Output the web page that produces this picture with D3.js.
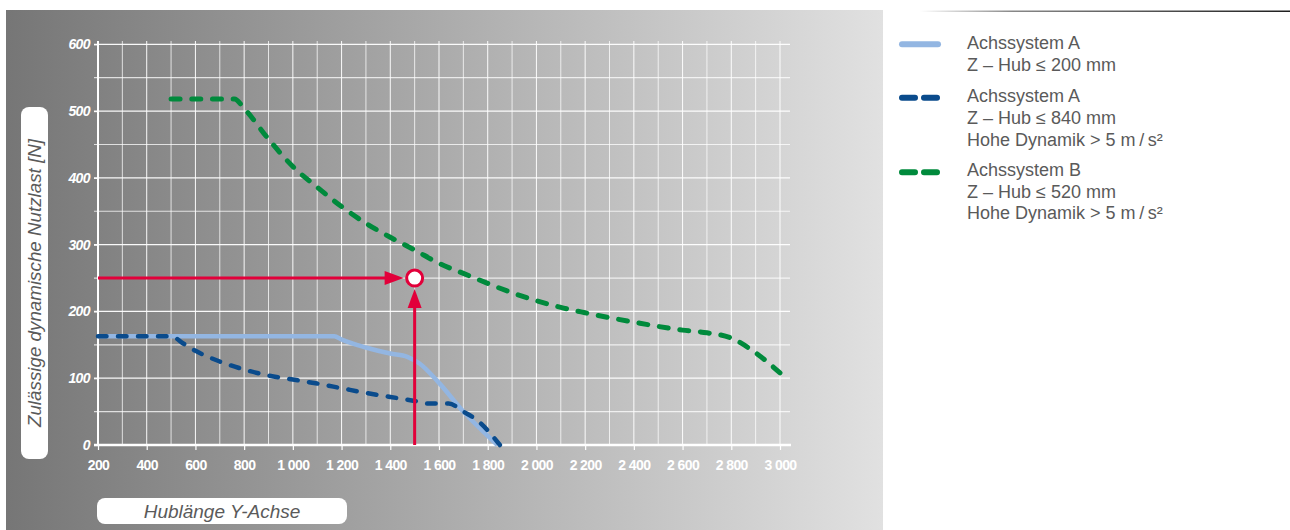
<!DOCTYPE html>
<html>
<head>
<meta charset="utf-8">
<script src="https://cdn.jsdelivr.net/npm/d3@7"></script>
<style>
  body { margin: 0; background: #fff; }
  svg { display: block; font-family: "Liberation Sans", Arial, sans-serif; }
</style>
</head>
<body>
<script>
var width = 1290
var height = 530

// chart values
var xTickValues = [200, 400, 600, 800, 1000, 1200, 1400, 1600, 1800, 2000, 2200, 2400, 2600, 2800, 3000]
var yTickValues = [0, 100, 200, 300, 400, 500, 600]
var xGrid = d3.range(200, 3001, 100)
var yGrid = d3.range(0, 601, 50)

var lightBlue = [[200,163],[1170,163],[1200,158],[1300,146],[1400,137],[1470,132],[1520,122],[1600,93],[1700,50],[1840,0]]
var darkBlue = [[200,163],[500,163],[550,152],[600,141],[700,125],[800,113],[900,104],[1000,98],[1100,92],[1200,85],[1300,78],[1400,72],[1500,66],[1560,62],[1640,62],[1700,50],[1760,36],[1850,0]]
var greenB = [[500,518],[760,518],[800,504],[900,458],[1000,417],[1100,386],[1200,357],[1300,332],[1400,311],[1500,292],[1600,272],[1700,257],[1800,242],[1900,228],[2000,216],[2100,206],[2200,198],[2400,184],[2600,172],[2700,168],[2800,160],[2900,138],[3000,108]]
var example = [1500, 250]

var seriesColors = ["#93b6e2", "#0a4b8c", "#008a3c"]
var legendLines = [
  ["Achssystem A", "Z \u2013 Hub \u2264 200 mm"],
  ["Achssystem A", "Z \u2013 Hub \u2264 840 mm", "Hohe Dynamik > 5 m\u2009/\u2009s\u00b2"],
  ["Achssystem B", "Z \u2013 Hub \u2264 520 mm", "Hohe Dynamik > 5 m\u2009/\u2009s\u00b2"]
]
var red = "#e2003a"

var x = d3.scaleLinear().domain([200, 3000]).range([98, 780])
var y = d3.scaleLinear().domain([0, 600]).range([445, 44.3])

var svg = d3.select("body").append("svg")
  .attr("width", width)
  .attr("height", height)

var defs = svg.append("defs")
var bg = defs.append("linearGradient").attr("id", "bg")
bg.append("stop").attr("offset", "0%").attr("stop-color", "#767676")
bg.append("stop").attr("offset", "100%").attr("stop-color", "#e1e1e1")

var rule = defs.append("linearGradient").attr("id", "rule")
rule.append("stop").attr("offset", "0%").attr("stop-color", "#ffffff")
rule.append("stop").attr("offset", "25%").attr("stop-color", "#888")
rule.append("stop").attr("offset", "100%").attr("stop-color", "#1e1e1e")

svg.append("rect")
  .attr("x", 6).attr("y", 10)
  .attr("width", 877).attr("height", 520)
  .attr("fill", "url(#bg)")

svg.append("rect")
  .attr("x", 920).attr("y", 10.5)
  .attr("width", 370).attr("height", 1.5)
  .attr("fill", "url(#rule)")

// grid
var grid = svg.append("g")
grid.selectAll(".vx").data(xGrid).enter().append("line")
  .attr("x1", function(d) { return x(d) })
  .attr("x2", function(d) { return x(d) })
  .attr("y1", 41)
  .attr("y2", y(0))
  .attr("stroke", "#fff")
  .attr("stroke-opacity", function(d) { return d % 200 == 0 ? 0.95 : 0.75 })
  .attr("stroke-width", 1)

grid.selectAll(".hy").data(yGrid).enter().append("line")
  .attr("x1", 94)
  .attr("x2", 790)
  .attr("y1", function(d) { return y(d) })
  .attr("y2", function(d) { return y(d) })
  .attr("stroke", "#fff")
  .attr("stroke-opacity", function(d) { return d % 100 == 0 ? 0.95 : 0.75 })
  .attr("stroke-width", 1.2)

// axes
var xAxis = svg.append("g")
  .attr("transform", "translate(0," + y(0) + ")")
  .call(d3.axisBottom(x)
    .tickValues(xTickValues)
    .tickSize(5)
    .tickSizeOuter(0)
    .tickPadding(10.5)
    .tickFormat(function(d) { return d >= 1000 ? Math.floor(d / 1000) + " " + d3.format("03")(d % 1000) : d }))
xAxis.select(".domain").remove()
xAxis.selectAll("line").attr("stroke", "#fff").attr("stroke-width", 1.2)
xAxis.selectAll("text")
  .attr("fill", "#fff")
  .style("font-size", "14px")
  .style("font-weight", "bold")
  .style("letter-spacing", "-0.6px")

var yAxis = svg.append("g")
  .attr("transform", "translate(" + x(200) + ",0)")
  .call(d3.axisLeft(y)
    .tickValues(yTickValues)
    .tickSize(4)
    .tickSizeOuter(0)
    .tickPadding(4))
yAxis.select(".domain").remove()
yAxis.selectAll("line").attr("stroke", "#fff").attr("stroke-width", 1.2)
yAxis.selectAll("text")
  .attr("fill", "#fff")
  .style("font-size", "14px")
  .style("font-weight", "bold")
  .style("font-style", "italic")
  .style("letter-spacing", "-0.6px")

svg.append("line")
  .attr("x1", x(200)).attr("x2", x(200))
  .attr("y1", 41).attr("y2", y(0))
  .attr("stroke", "#fff").attr("stroke-width", 2)
svg.append("line")
  .attr("x1", 94).attr("x2", 791)
  .attr("y1", y(0)).attr("y2", y(0))
  .attr("stroke", "#fff").attr("stroke-width", 2.5)

// curves
var line = d3.line()
  .x(function(d) { return x(d[0]) })
  .y(function(d) { return y(d[1]) })
  .curve(d3.curveMonotoneX)

// stretch the gap a little so a dash sits on both ends of the line
function fitDashes(path, dash, gap) {
  var L = path.node().getTotalLength()
  var n = Math.max(1, Math.round((L - dash) / (dash + gap)))
  var g = (L - dash) / n - dash
  path.attr("stroke-dasharray", dash + "," + g)
}

svg.append("path")
  .datum(lightBlue)
  .attr("d", line)
  .attr("fill", "none")
  .attr("stroke", seriesColors[0])
  .attr("stroke-width", 4.5)
  .attr("stroke-linejoin", "round")

var dark = svg.append("path")
  .datum(darkBlue)
  .attr("d", line)
  .attr("fill", "none")
  .attr("stroke", seriesColors[1])
  .attr("stroke-width", 4.5)
  .attr("stroke-linecap", "round")
fitDashes(dark, 8.5, 11.5)

var green = svg.append("path")
  .datum(greenB)
  .attr("d", line)
  .attr("fill", "none")
  .attr("stroke", seriesColors[2])
  .attr("stroke-width", 5)
  .attr("stroke-linecap", "round")
fitDashes(green, 9, 12)

// example reading: arrows to the point
var px = x(example[0])
var py = y(example[1])
var r = 8

svg.append("line")
  .attr("x1", x(200)).attr("x2", px - r - 18)
  .attr("y1", py).attr("y2", py)
  .attr("stroke", red).attr("stroke-width", 3)
svg.append("path")
  .attr("d", "M" + (px - r - 3) + "," + py + "L" + (px - r - 22) + "," + (py - 7) + "L" + (px - r - 22) + "," + (py + 7) + "Z")
  .attr("fill", red)

svg.append("line")
  .attr("x1", px).attr("x2", px)
  .attr("y1", y(0)).attr("y2", py + r + 18)
  .attr("stroke", red).attr("stroke-width", 3)
svg.append("path")
  .attr("d", "M" + px + "," + (py + r + 3) + "L" + (px - 7) + "," + (py + r + 22) + "L" + (px + 7) + "," + (py + r + 22) + "Z")
  .attr("fill", red)

svg.append("circle")
  .attr("cx", px).attr("cy", py).attr("r", r)
  .attr("fill", "#fff")
  .attr("stroke", red)
  .attr("stroke-width", 3)

// axis titles
svg.append("rect")
  .attr("x", 21).attr("y", 107)
  .attr("width", 27).attr("height", 352)
  .attr("rx", 8)
  .attr("fill", "#fff")
svg.append("text")
  .attr("transform", "translate(40.5,283) rotate(-90)")
  .attr("text-anchor", "middle")
  .attr("fill", "#5a5a5a")
  .style("font-size", "18.8px")
  .style("font-style", "italic")
  .text("Zul\u00e4ssige dynamische Nutzlast [N]")

svg.append("rect")
  .attr("x", 97).attr("y", 498)
  .attr("width", 250).attr("height", 26)
  .attr("rx", 8)
  .attr("fill", "#fff")
svg.append("text")
  .attr("x", 222).attr("y", 517.5)
  .attr("text-anchor", "middle")
  .attr("fill", "#5a5a5a")
  .style("font-size", "19px")
  .style("font-style", "italic")
  .text("Hubl\u00e4nge Y-Achse")

// legend
var legendTop = [42.7, 95.7, 169.3]
var legendSample = [44.3, 97.7, 172.3]
var dashes = [null, "13,9", "13,9"]

var legend = svg.append("g")
legendLines.forEach(function(lines, i) {
  legend.append("line")
    .attr("x1", 902).attr("x2", 938)
    .attr("y1", legendSample[i]).attr("y2", legendSample[i])
    .attr("stroke", seriesColors[i])
    .attr("stroke-width", 6)
    .attr("stroke-linecap", "round")
    .attr("stroke-dasharray", dashes[i])
  lines.forEach(function(t, j) {
    legend.append("text")
      .attr("x", 967)
      .attr("y", legendTop[i] + j * 21.8 + 6.5)
      .attr("fill", "#5a5a5a")
      .style("font-size", "18px")
      .text(t)
  })
})
</script>
</body>
</html>
